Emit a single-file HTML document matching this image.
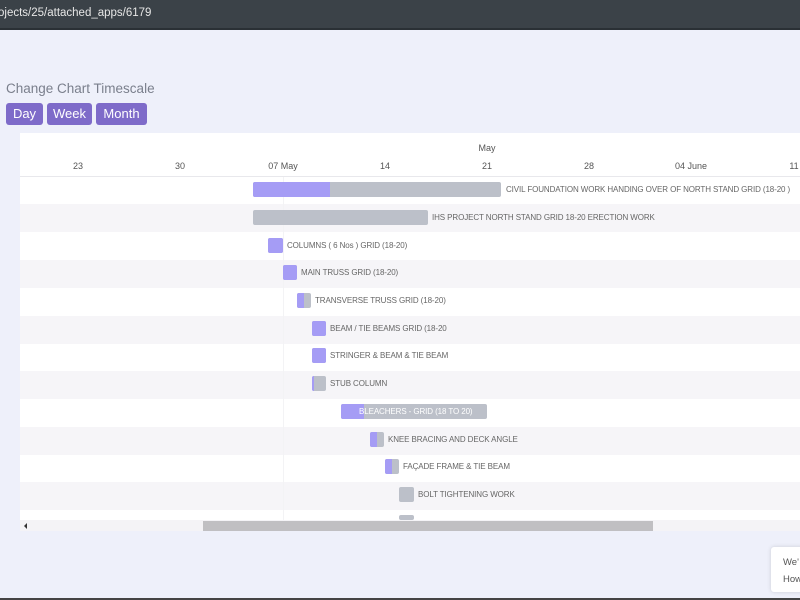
<!DOCTYPE html><html><head><style>
body{margin:0;width:800px;height:600px;overflow:hidden;background:#eef0fa;font-family:"Liberation Sans",sans-serif;position:relative}
.top{position:absolute;left:0;top:0;width:800px;height:28px;background:#3b4248;border-bottom:2px solid #2a3035}
.url{position:absolute;left:-2px;top:7px;color:#e6e6e6;font-size:11.5px}
.h{position:absolute;left:6px;top:81px;color:#7a7f8c;font-size:13.5px}
.btn{position:absolute;top:103px;height:22px;background:#7e6bc9;color:#fff;font-size:13px;line-height:22px;text-align:center;border-radius:3px}
.chart{position:absolute;left:20px;top:133px;width:780px;height:387px;background:#fff;overflow:hidden}
.row{position:absolute;left:0;width:780px;height:28px}
.g{background:#f6f5f8}
.tk{position:absolute;top:28px;font-size:9px;color:#555;transform:translateX(-50%)}
.bar{position:absolute;height:15px;background:#bcc0c9;border-radius:2px;overflow:hidden}
.bar i{position:absolute;left:0;top:0;bottom:0;background:#a59cf5}
.lb{position:absolute;font-size:8px;color:#666;white-space:nowrap;letter-spacing:-0.1px}
</style></head><body>
<div class="top"><div class="url">ojects/25/attached_apps/6179</div></div>
<div class="h">Change Chart Timescale</div>
<div class="btn" style="left:6px;width:37px">Day</div>
<div class="btn" style="left:47px;width:45px">Week</div>
<div class="btn" style="left:96px;width:51px">Month</div>
<div class="chart">
<div class="tk" style="left:467px;top:10px">May</div>
<div class="tk" style="left:58px">23</div>
<div class="tk" style="left:160px">30</div>
<div class="tk" style="left:263px">07 May</div>
<div class="tk" style="left:365px">14</div>
<div class="tk" style="left:467px">21</div>
<div class="tk" style="left:569px">28</div>
<div class="tk" style="left:671px">04 June</div>
<div class="tk" style="left:774px">11</div>
<div style="position:absolute;left:0;top:43px;width:780px;height:1px;background:#e8e8ec"></div>
<div class="row" style="top:43px"></div>
<div class="row g" style="top:71px"></div>
<div class="row" style="top:99px"></div>
<div class="row g" style="top:127px"></div>
<div class="row" style="top:155px"></div>
<div class="row g" style="top:183px"></div>
<div class="row" style="top:210px"></div>
<div class="row g" style="top:238px"></div>
<div class="row" style="top:266px"></div>
<div class="row g" style="top:294px"></div>
<div class="row" style="top:321px"></div>
<div class="row g" style="top:349px"></div>
<div class="row" style="top:377px"></div>
<div style="position:absolute;left:263px;top:44px;width:1px;height:343px;background:#f3f3f5"></div>
</div>
<div style="position:absolute;left:0;top:0">
<div class="bar" style="left:253px;top:182px;width:248px"><i style="width:77px"></i></div><div class="lb" style="left:506px;top:185px">CIVIL FOUNDATION WORK HANDING OVER OF NORTH STAND GRID (18-20 )</div>
<div class="bar" style="left:253px;top:210px;width:175px"></div><div class="lb" style="left:432px;top:213px">IHS PROJECT NORTH STAND GRID 18-20 ERECTION WORK</div>
<div class="bar" style="left:268px;top:238px;width:15px"><i style="width:15px"></i></div><div class="lb" style="left:287px;top:241px">COLUMNS ( 6 Nos ) GRID (18-20)</div>
<div class="bar" style="left:283px;top:265px;width:14px"><i style="width:14px"></i></div><div class="lb" style="left:301px;top:268px">MAIN TRUSS GRID (18-20)</div>
<div class="bar" style="left:297px;top:293px;width:14px"><i style="width:7px"></i></div><div class="lb" style="left:315px;top:296px">TRANSVERSE TRUSS GRID (18-20)</div>
<div class="bar" style="left:312px;top:321px;width:14px"><i style="width:14px"></i></div><div class="lb" style="left:330px;top:324px">BEAM / TIE BEAMS GRID (18-20</div>
<div class="bar" style="left:312px;top:348px;width:14px"><i style="width:14px"></i></div><div class="lb" style="left:330px;top:351px">STRINGER &amp; BEAM &amp; TIE BEAM</div>
<div class="bar" style="left:312px;top:376px;width:14px"><i style="width:2px"></i></div><div class="lb" style="left:330px;top:379px">STUB COLUMN</div>
<div class="bar" style="left:341px;top:404px;width:146px"><i style="width:23px"></i></div><div class="lb" style="left:359px;top:407px;color:#fff">BLEACHERS - GRID (18 TO 20)</div>
<div class="bar" style="left:370px;top:432px;width:14px"><i style="width:7px"></i></div><div class="lb" style="left:388px;top:435px">KNEE BRACING AND DECK ANGLE</div>
<div class="bar" style="left:385px;top:459px;width:14px"><i style="width:7px"></i></div><div class="lb" style="left:403px;top:462px">FAÇADE FRAME &amp; TIE BEAM</div>
<div class="bar" style="left:399px;top:487px;width:15px"></div><div class="lb" style="left:418px;top:490px">BOLT TIGHTENING WORK</div>
<div class="bar" style="left:399px;top:515px;width:15px;height:5px"></div>
</div>
<div style="position:absolute;left:20px;top:520px;width:780px;height:11px;background:#f4f3f6"></div>
<div style="position:absolute;left:24px;top:523px;width:0;height:0;border-top:3px solid transparent;border-bottom:3px solid transparent;border-right:3px solid #333"></div>
<div style="position:absolute;left:203px;top:521px;width:450px;height:10px;background:#c0bfc2"></div>
<div style="position:absolute;left:771px;top:547px;width:40px;height:45px;background:#fff;border-radius:3px;box-shadow:0 0 4px rgba(0,0,0,.15);font-size:9.5px;color:#555"><div style="position:absolute;left:12px;top:10px">We'</div><div style="position:absolute;left:12px;top:27px">How</div></div>
<div style="position:absolute;left:0;top:598px;width:800px;height:2px;background:#444"></div>
</body></html>
